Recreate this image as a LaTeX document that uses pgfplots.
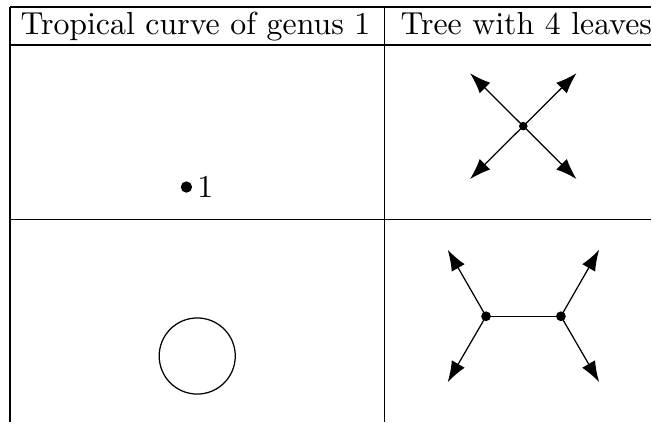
\documentclass[border=0pt]{standalone}
\usepackage{graphicx}
\usepackage{pgfplots}
\pgfplotsset{compat=1.18}
\usetikzlibrary{arrows.meta}
\begin{document}
\begin{tikzpicture}
\begin{axis}[
  width=652bp, height=423bp, scale only axis,
  xmin=0, xmax=652, ymin=0, ymax=423, y dir=reverse,
  hide axis, clip=false,
  every axis plot/.append style={line width=1.25bp, black},
]
% bounding box
\addplot[draw=none, mark=none] coordinates {(0,0) (652,423)};
% table rules
\addplot[mark=none] coordinates {(10,7) (652,7)};
\addplot[mark=none] coordinates {(10,45) (652,45)};
\addplot[mark=none] coordinates {(10,220) (652,220)};
\addplot[mark=none] coordinates {(10,7) (10,423)};
\addplot[mark=none] coordinates {(385,7) (385,423)};
% headers
\node[anchor=base west, inner sep=0pt] at (axis cs:20.5,35) {\scalebox{3.2}{Tropical curve of genus 1}};
\node[anchor=base west, inner sep=0pt] at (axis cs:401,35) {\scalebox{3.2}{Tree with 4 leaves}};
% genus-1 vertex with weight 1
\addplot[only marks, mark=*, mark size=5bp] coordinates {(186.7,187.3)};
\node[anchor=base west, inner sep=0pt] at (axis cs:197.5,197.7) {\scalebox{3.2}{1}};
% cycle
\addplot[only marks, mark=o, mark size=38.1bp, mark options={line width=1.25bp}] coordinates {(197.5,356.5)};
% tree with 4 leaves, one vertex
\addplot[mark=none, -{Latex[length=21bp,width=15bp]}] coordinates {(524,126.3) (470.7,73.3)};
\addplot[mark=none, -{Latex[length=21bp,width=15bp]}] coordinates {(524,126.3) (577.3,73.3)};
\addplot[mark=none, -{Latex[length=21bp,width=15bp]}] coordinates {(524,126.3) (470.7,179.3)};
\addplot[mark=none, -{Latex[length=21bp,width=15bp]}] coordinates {(524,126.3) (577.3,179.3)};
\addplot[only marks, mark=*, mark size=3.6bp] coordinates {(524,126.3)};
% tree with 4 leaves, two vertices
\addplot[mark=none] coordinates {(486.7,316.7) (561.7,316.7)};
\addplot[mark=none, -{Latex[length=21bp,width=15bp]}] coordinates {(486.7,316.7) (448.3,250)};
\addplot[mark=none, -{Latex[length=21bp,width=15bp]}] coordinates {(486.7,316.7) (448.3,382.7)};
\addplot[mark=none, -{Latex[length=21bp,width=15bp]}] coordinates {(561.7,316.7) (600,250)};
\addplot[mark=none, -{Latex[length=21bp,width=15bp]}] coordinates {(561.7,316.7) (600,382.7)};
\addplot[only marks, mark=*, mark size=4.2bp] coordinates {(486.7,316.7) (561.7,316.7)};
\end{axis}
\end{tikzpicture}
\end{document}
